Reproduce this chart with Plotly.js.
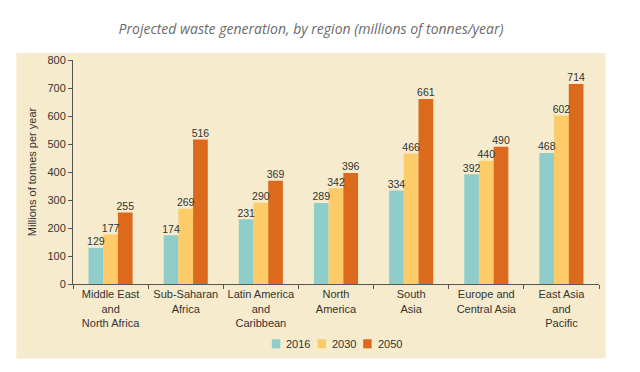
<!DOCTYPE html>
<html>
<head>
<meta charset="utf-8">
<script src="https://cdn.plot.ly/plotly-3.0.1.min.js"></script>
<style>html,body{margin:0;padding:0;background:#fff;}#chart{width:640px;height:372px;}</style>
</head>
<body>
<div id="chart"></div>
<script>
var regions = ["Middle East<br>and<br>North Africa", "Sub-Saharan<br>Africa", "Latin America<br>and<br>Caribbean", "North<br>America", "South<br>Asia", "Europe and<br>Central Asia", "East Asia<br>and<br>Pacific"];
var years = ["2016", "2030", "2050"];
var values2016 = [129, 174, 231, 289, 334, 392, 468];
var values2030 = [177, 269, 290, 342, 466, 440, 602];
var values2050 = [255, 516, 369, 396, 661, 490, 714];
var colors = ["#8fcdca", "#fdcb67", "#dc6a1d"];

var FONT = "Liberation Sans, Arial, sans-serif";
var series = [values2016, values2030, values2050];
var traces = series.map(function(vals, i) {
  return {
    type: "bar",
    name: years[i],
    x: regions,
    y: vals,
    marker: {color: colors[i]},
    hoverinfo: "none",
    showlegend: false
  };
});
// value labels as text traces, grouped like the bars and drawn above them
series.forEach(function(vals, i) {
  traces.push({
    type: "scatter",
    mode: "text",
    name: years[i] + " labels",
    x: regions,
    y: vals,
    text: vals.map(String),
    textposition: "top center",
    textfont: {family: FONT, size: 10.5, color: "#333"},
    cliponaxis: false,
    hoverinfo: "none",
    showlegend: false
  });
});

// plot area in pixels
var W = 640, H = 372;
var L = 73.3, R = 599, T = 59.7, B = 283.7;
function px2x(p) { return (p - L) / (R - L); }
function px2y(p) { return (B - p) / (B - T); }

// legend drawn as squares + labels
var legendX = [272, 317.7, 363.3];
var legendY = 343.5;
var shapes = [{
  type: "rect", xref: "paper", yref: "paper", layer: "below",
  x0: px2x(16.7), x1: px2x(605.7), y0: px2y(358.3), y1: px2y(52.7),
  fillcolor: "#f6ebcc", line: {width: 0}
}];
var annotations = [];
years.forEach(function(yr, i) {
  shapes.push({
    type: "rect", xref: "paper", yref: "paper",
    x0: px2x(legendX[i]), x1: px2x(legendX[i] + 8.5),
    y0: px2y(legendY + 4.5), y1: px2y(legendY - 4.5),
    fillcolor: colors[i], line: {width: 0}
  });
  annotations.push({
    xref: "paper", yref: "paper",
    x: px2x(legendX[i] + 12.5), y: px2y(legendY),
    xanchor: "left", yanchor: "middle",
    text: yr, showarrow: false,
    font: {family: FONT, size: 11, color: "#333"}
  });
});

var layout = {
  width: W, height: H,
  margin: {l: L, r: W - R, t: T, b: H - B, pad: 0},
  paper_bgcolor: "#ffffff",
  plot_bgcolor: "rgba(0,0,0,0)",
  barmode: "group",
  bargap: 0.413,
  bargroupgap: 0,
  scattermode: "group",
  scattergap: 0.413,
  font: {family: FONT, size: 11, color: "#333"},
  title: {
    text: "<i>Projected waste generation, by region (millions of tonnes/year)</i>",
    font: {family: "Open Sans, sans-serif", size: 14, color: "#6b6b6b"},
    x: 311 / W, xref: "container", xanchor: "center",
    y: 1 - 29 / H, yref: "container", yanchor: "middle"
  },
  xaxis: {
    type: "category",
    tickson: "boundaries",
    tickangle: 0,
    ticks: "outside", ticklen: 4, tickcolor: "#555", tickwidth: 1,
    showline: true, linecolor: "#555", linewidth: 1,
    showgrid: false, zeroline: false,
    tickfont: {family: FONT, size: 11, color: "#333"},
    fixedrange: true
  },
  yaxis: {
    range: [0, 800],
    dtick: 100,
    ticks: "outside", ticklen: 4, tickcolor: "#555", tickwidth: 1,
    showline: true, linecolor: "#555", linewidth: 1,
    showgrid: false, zeroline: false,
    tickfont: {family: FONT, size: 11, color: "#333"},
    title: {text: "Millions of tonnes per year", font: {family: FONT, size: 11, color: "#333"}, standoff: 8},
    fixedrange: true
  },
  shapes: shapes,
  annotations: annotations,
  showlegend: false
};

Plotly.newPlot("chart", traces, layout, {displayModeBar: false, staticPlot: true});
</script>
</body>
</html>
